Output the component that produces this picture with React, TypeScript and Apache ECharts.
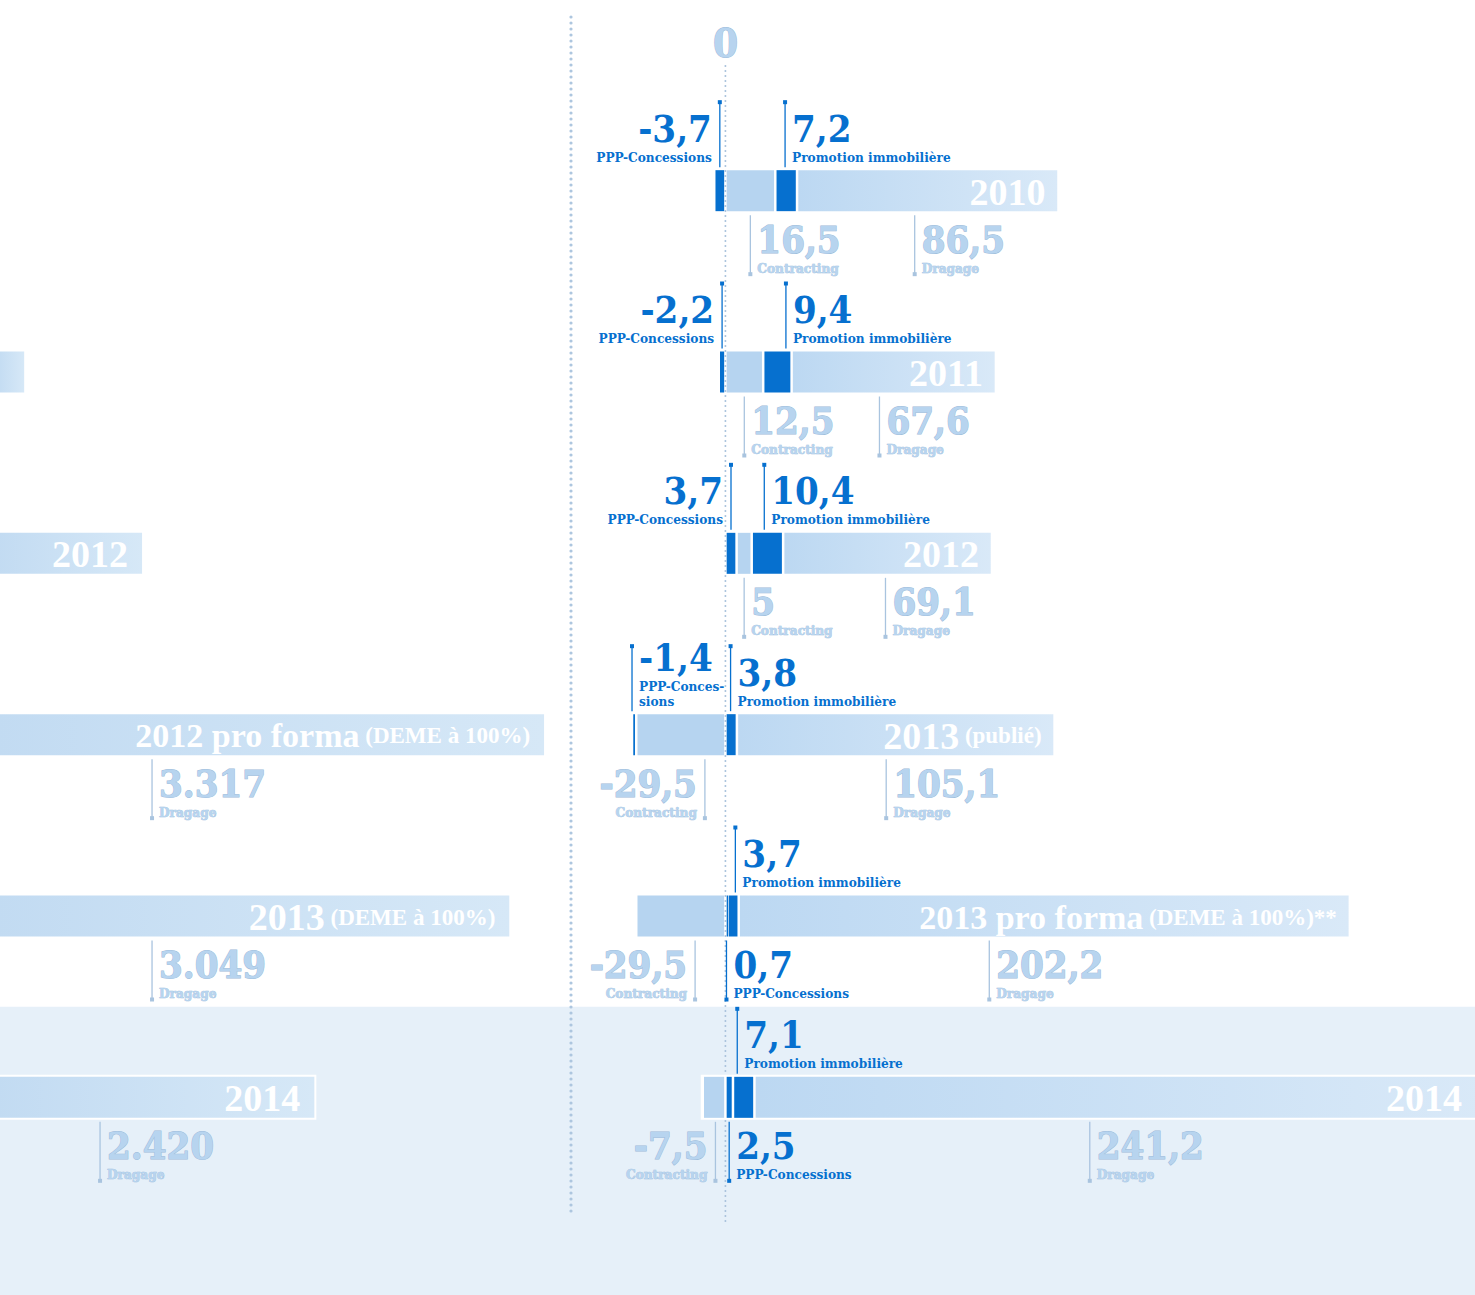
import React, { useEffect, useRef } from 'react';
import * as echarts from 'echarts';

// ---------- DATA ----------
const categories = ['2010', '2011', '2012', '2013 (publié)', '2013 pro forma (DEME à 100%)**', '2014'];
const yearMain = ['2010', '2011', '2012', '2013', '2013 pro forma', '2014'];
const yearSuffix = ['', '', '', ' (publié)', ' (DEME à 100%)**', ''];
const pppConcessions = [-3.7, -2.2, 3.7, -1.4, 0.7, 2.5];
const contracting = [16.5, 12.5, 5, -29.5, -29.5, -7.5];
const promotionImmo = [7.2, 9.4, 10.4, 3.8, 3.7, 7.1];
const dragage = [86.5, 67.6, 69.1, 105.1, 202.2, 241.2];

// left panel (DEME à 100%), only partly visible
const leftMain = ['', '', '2012', '2012 pro forma', '2013', '2014'];
const leftSuffix = ['', '', '', ' (DEME à 100%)', ' (DEME à 100%)', ''];
const leftBarEnd: (number | null)[] = [null, -232, -193, -60, -71.5, -136];
const leftDragage = ['', '', '', '3.317', '3.049', '2.420'];

const subtitles = {
  ppp: 'PPP-Concessions',
  con: 'Contracting',
  pro: 'Promotion immobilière',
  dra: 'Dragage',
};

// ---------- LAYOUT / STYLE ----------
const X_MIN = -240;
const X_MAX = 248;
const HIGHLIGHT_ROW = 5;
const BH = 41;

type Spec = { side: 'top' | 'bottom'; align: 'left' | 'right'; frac: number; sub?: string };
const layout: Record<string, Spec[]> = {
  ppp: [
    { side: 'top', align: 'right', frac: 0.5 },
    { side: 'top', align: 'right', frac: 0.5 },
    { side: 'top', align: 'right', frac: 0.5 },
    { side: 'top', align: 'left', frac: 1, sub: 'PPP-Conces-\nsions' },
    { side: 'bottom', align: 'left', frac: 0.5 },
    { side: 'bottom', align: 'left', frac: 0.5 },
  ],
  con: [
    { side: 'bottom', align: 'left', frac: 0.5 },
    { side: 'bottom', align: 'left', frac: 0.5 },
    { side: 'bottom', align: 'left', frac: 0.5 },
    { side: 'bottom', align: 'right', frac: 0.23 },
    { side: 'bottom', align: 'right', frac: 0.34 },
    { side: 'bottom', align: 'right', frac: 0.44 },
  ],
  pro: [
    { side: 'top', align: 'left', frac: 0.45 },
    { side: 'top', align: 'left', frac: 0.8 },
    { side: 'top', align: 'left', frac: 0.4 },
    { side: 'top', align: 'left', frac: 0.45 },
    { side: 'top', align: 'left', frac: 0.7 },
    { side: 'top', align: 'left', frac: 0.2 },
  ],
  dra: [
    { side: 'bottom', align: 'left', frac: 0.45 },
    { side: 'bottom', align: 'left', frac: 0.43 },
    { side: 'bottom', align: 'left', frac: 0.49 },
    { side: 'bottom', align: 'left', frac: 0.47 },
    { side: 'bottom', align: 'left', frac: 0.41 },
    { side: 'bottom', align: 'left', frac: 0.46 },
  ],
};
const leftLabelAnchor: (number | null)[] = [null, null, null, -189.7, -189.7, -206.9];

const SLAB = '"DejaVu Serif Condensed", "DejaVu Serif", serif';
const SERIF = '"Liberation Serif", "DejaVu Serif", serif';
const DARK = '#0670cf';
const LIGHT_FILL = '#b7d4ef';
const LIGHT_STROKE = '#9dbbd9';
const CONTRACT_COLOR = '#b6d4f0';
const LINE_LIGHT = '#a9c4df';
const BAND_BG = '#e6f0f9';

const fmt = (v: number) => String(v).replace('.', ',');

const richDark = {
  n: { fontSize: 38, fontWeight: 'bold', fontFamily: SLAB, fill: DARK, lineHeight: 42 },
  s: { fontSize: 13.5, fontWeight: 'bold', fontFamily: SLAB, fill: DARK, lineHeight: 15 },
};
const richLight = {
  n: { fontSize: 38, fontWeight: 'bold', fontFamily: SLAB, fill: LIGHT_FILL, stroke: LIGHT_STROKE, lineWidth: 1, lineHeight: 42 },
  s: { fontSize: 13.5, fontWeight: 'bold', fontFamily: SLAB, fill: LIGHT_FILL, stroke: LIGHT_STROKE, lineWidth: 0.6, lineHeight: 15 },
};
const richYear = {
  y: { fontSize: 38, fontWeight: 'bold', fontFamily: SERIF, fill: '#ffffff' },
  f: { fontSize: 34, fontWeight: 'bold', fontFamily: SERIF, fill: '#ffffff' },
  p: { fontSize: 23, fontWeight: 'bold', fontFamily: SERIF, fill: '#ffffff' },
};

const yearText = (main: string, suffix: string) =>
  `{${main.length > 4 ? 'f' : 'y'}|${main}}` + (suffix ? `{p|${suffix}}` : '');

function labelEls(x: number, top: number, bottom: number, spec: Spec, num: string, sub: string, dark: boolean) {
  const els: any[] = [];
  const col = dark ? DARK : LINE_LIGHT;
  const lines = (spec.sub || sub).split('\n').map((s) => `{s|${s}}`).join('\n');
  const text = `{n|${num}}\n${lines}`;
  const tx = spec.align === 'left' ? x + 7 : x - 8;
  if (spec.side === 'top') {
    const y1 = top - 68;
    const y2 = top - 3;
    els.push({ type: 'line', shape: { x1: x, y1, x2: x, y2 }, style: { stroke: col, lineWidth: 1.3 } });
    els.push({ type: 'rect', shape: { x: x - 2, y: y1 - 2, width: 4, height: 4 }, style: { fill: col } });
    els.push({
      type: 'text', x: tx, y: top - 6,
      style: { text, rich: dark ? richDark : richLight, align: spec.align, verticalAlign: 'bottom' },
    });
  } else {
    const y1 = bottom + 4;
    const y2 = bottom + 63;
    els.push({ type: 'line', shape: { x1: x, y1, x2: x, y2 }, style: { stroke: col, lineWidth: 1.3 } });
    els.push({ type: 'rect', shape: { x: x - 2, y: y2 - 2, width: 4, height: 4 }, style: { fill: col } });
    els.push({
      type: 'text', x: tx, y: bottom + 7,
      style: { text, rich: dark ? richDark : richLight, align: spec.align, verticalAlign: 'top' },
    });
  }
  return els;
}

function rowRender(params: any, api: any) {
  const i = api.value(1) as number;
  const W = api.getWidth();
  const yc = api.coord([0, i])[1];
  const top = yc - BH / 2;
  const bottom = yc + BH / 2;
  const X = (v: number) => api.coord([v, i])[0];
  const vals: Record<string, number> = {
    ppp: pppConcessions[i], con: contracting[i], pro: promotionImmo[i], dra: dragage[i],
  };
  const segs: { k: string; s: number; e: number }[] = [];
  let pos = 0;
  let neg = 0;
  for (const k of ['ppp', 'con', 'pro', 'dra']) {
    const v = vals[k];
    if (v > 0) { segs.push({ k, s: pos, e: pos + v }); pos += v; }
  }
  for (const k of ['con', 'ppp', 'pro', 'dra']) {
    const v = vals[k];
    if (v < 0) { segs.push({ k, s: neg, e: neg + v }); neg += v; }
  }
  const children: any[] = [];
  const leftPx = X(neg);
  const rightPx = Math.min(X(pos), W + 20);
  if (i === HIGHLIGHT_ROW) {
    children.push({ type: 'rect', shape: { x: leftPx - 2, y: top - 2, width: rightPx - leftPx + 4, height: BH + 4 }, style: { fill: '#ffffff' } });
  }
  for (const sg of segs) {
    const a = X(sg.s);
    const b = X(sg.e);
    const l = Math.min(a, b);
    const r = Math.max(a, b);
    const w = Math.max(r - l - 2.5, 1.5);
    let fill: any = DARK;
    if (sg.k === 'con') fill = CONTRACT_COLOR;
    if (sg.k === 'dra') {
      fill = new echarts.graphic.LinearGradient(0, 0, 1, 0, [
        { offset: 0, color: '#bcd8f2' },
        { offset: 1, color: '#d9e9f8' },
      ]);
    }
    children.push({ type: 'rect', shape: { x: l + 1.25, y: top, width: w, height: BH }, style: { fill } });
  }
  // year label inside bar
  children.push({
    type: 'text', x: Math.min(X(pos), W) - 13, y: yc + 1,
    style: { text: yearText(yearMain[i], yearSuffix[i]), rich: richYear, align: 'right', verticalAlign: 'middle' },
  });
  // labels
  for (const sg of segs) {
    const spec = layout[sg.k][i];
    const a = X(sg.s);
    const b = X(sg.e);
    const x = a + spec.frac * (b - a);
    const dark = sg.k === 'ppp' || sg.k === 'pro';
    children.push(...labelEls(x, top, bottom, spec, fmt(vals[sg.k]), (subtitles as any)[sg.k], dark));
  }
  return { type: 'group', children };
}

function leftRender(params: any, api: any) {
  const i = api.value(1) as number;
  const end = leftBarEnd[i];
  if (end == null) return null;
  const yc = api.coord([0, i])[1];
  const top = yc - BH / 2;
  const bottom = yc + BH / 2;
  const X = (v: number) => api.coord([v, i])[0];
  const x0 = X(X_MIN) - 4;
  const x1 = X(end);
  const children: any[] = [];
  if (i === HIGHLIGHT_ROW) {
    children.push({ type: 'rect', shape: { x: x0 - 2, y: top - 2, width: x1 - x0 + 4, height: BH + 4 }, style: { fill: '#ffffff' } });
  }
  children.push({
    type: 'rect', shape: { x: x0, y: top, width: x1 - x0, height: BH },
    style: {
      fill: new echarts.graphic.LinearGradient(0, 0, 1, 0, [
        { offset: 0, color: '#c2dbf2' },
        { offset: 1, color: '#d6e8f7' },
      ]),
    },
  });
  if (leftMain[i]) {
    children.push({
      type: 'text', x: x1 - 14, y: yc + 1,
      style: { text: yearText(leftMain[i], leftSuffix[i]), rich: richYear, align: 'right', verticalAlign: 'middle' },
    });
  }
  const anchor = leftLabelAnchor[i];
  if (leftDragage[i] && anchor != null) {
    children.push(...labelEls(X(anchor), top, bottom, { side: 'bottom', align: 'left', frac: 0 }, leftDragage[i], subtitles.dra, false));
  }
  return { type: 'group', children };
}

function bandRender(params: any, api: any) {
  const i = api.value(1) as number;
  const yc = api.coord([0, i])[1];
  const bandTop = yc - api.size([0, 1])[1] / 2;
  return {
    type: 'rect',
    shape: { x: 0, y: bandTop, width: api.getWidth(), height: api.getHeight() - bandTop },
    style: { fill: BAND_BG },
  };
}

function zeroRender(params: any, api: any) {
  const x = api.coord([0, 0])[0];
  return {
    type: 'group',
    children: [
      { type: 'line', shape: { x1: x, y1: 66, x2: x, y2: 1224 }, style: { stroke: '#a7c1db', lineWidth: 2, lineDash: [0, 5], lineCap: 'round' } },
      {
        type: 'text', x, y: 42,
        style: { text: '0', align: 'center', verticalAlign: 'middle', fontSize: 40, fontWeight: 'bold', fontFamily: SLAB, fill: LIGHT_FILL, stroke: LIGHT_STROKE, lineWidth: 1 },
      },
    ],
  };
}

function buildOption(): any {
  const rows = categories.map((c, i) => [0, i]);
  return {
    animation: false,
    backgroundColor: '#ffffff',
    grid: { left: 0, right: 0, top: 100, bottom: 107 },
    xAxis: { type: 'value', min: X_MIN, max: X_MAX, show: false },
    yAxis: { type: 'category', data: categories, inverse: true, show: false },
    graphic: [
      {
        type: 'line', z: 50,
        shape: { x1: 571, y1: 17, x2: 571, y2: 1213 },
        style: { stroke: '#adc6df', lineWidth: 3.2, lineDash: [0, 6], lineCap: 'round' },
      },
    ],
    series: [
      { type: 'custom', z: 1, clip: false, data: [[0, HIGHLIGHT_ROW]], encode: { x: 0, y: 1 }, renderItem: bandRender, silent: true },
      { type: 'custom', z: 2, clip: false, data: [[0, 0]], encode: { x: 0, y: 1 }, renderItem: zeroRender, silent: true },
      { type: 'custom', z: 3, clip: false, data: rows, encode: { x: 0, y: 1 }, renderItem: leftRender, silent: true },
      { type: 'custom', z: 4, clip: false, data: rows, encode: { x: 0, y: 1 }, renderItem: rowRender, silent: true },
    ],
  };
}

export default function App() {
  const ref = useRef<HTMLDivElement>(null);
  useEffect(() => {
    document.body.style.margin = '0';
    const chart = echarts.init(ref.current!, null, { renderer: 'svg' });
    chart.setOption(buildOption());
    return () => chart.dispose();
  }, []);
  return <div ref={ref} style={{ width: 1475, height: 1295 }} />;
}
